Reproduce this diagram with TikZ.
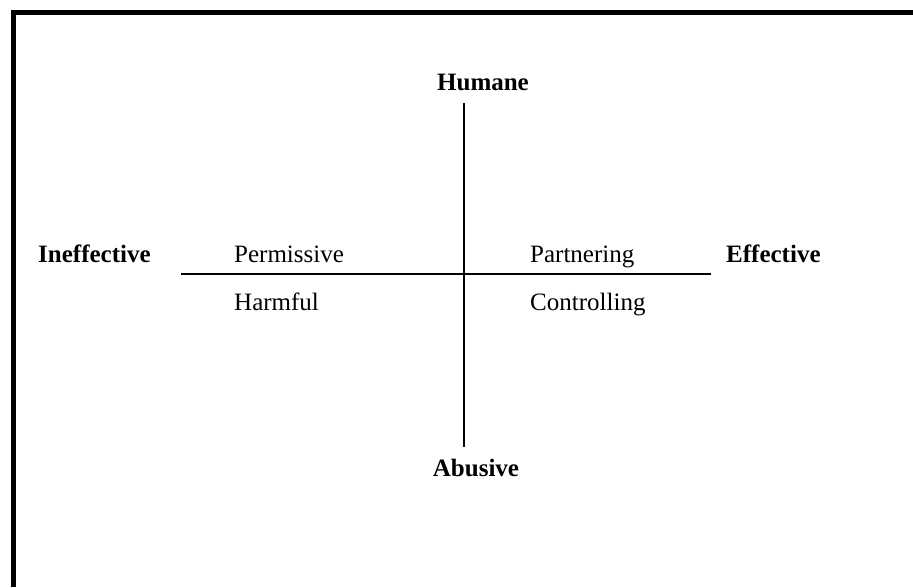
\documentclass[tikz,border=0pt]{standalone}
\usepackage{fontspec}
\setmainfont{Liberation Serif}
\tikzset{
  lbl/.style={inner sep=0pt, anchor=base west, font=\fontsize{25}{30}\selectfont},
  blbl/.style={lbl, font=\fontsize{25}{30}\selectfont\bfseries},
  axis/.style={line width=2pt, line cap=butt},
  frame/.style={line width=5pt, line cap=butt}
}
\begin{document}
\begin{tikzpicture}[x=1pt,y=-1pt]
\useasboundingbox (0,0) rectangle (913,587);
% frame (left and top only)
\draw[frame] (13.5,587) -- (13.5,12) -- (913,12);
% axes
\coordinate (hl) at (181,274);
\coordinate (hr) at (711,274);
\coordinate (vt) at (464,103);
\coordinate (vb) at (464,447);
\draw[axis] (hl) -- (hr);
\draw[axis] (vt) -- (vb);
% labels
\node[blbl, anchor=base] (humane) at (483,90) {Humane};
\node[blbl, anchor=base] (abusive) at (476,476) {Abusive};
\node[blbl] (ineff) at (38,262) {Ineffective};
\node[blbl] (eff) at (726,262) {Effective};
\node[lbl] (perm) at (234,262) {Permissive};
\node[lbl] (part) at (530,262) {Partnering};
\node[lbl] (harm) at (234,310) {Harmful};
\node[lbl] (ctrl) at (530,310) {Controlling};
\end{tikzpicture}
\end{document}
